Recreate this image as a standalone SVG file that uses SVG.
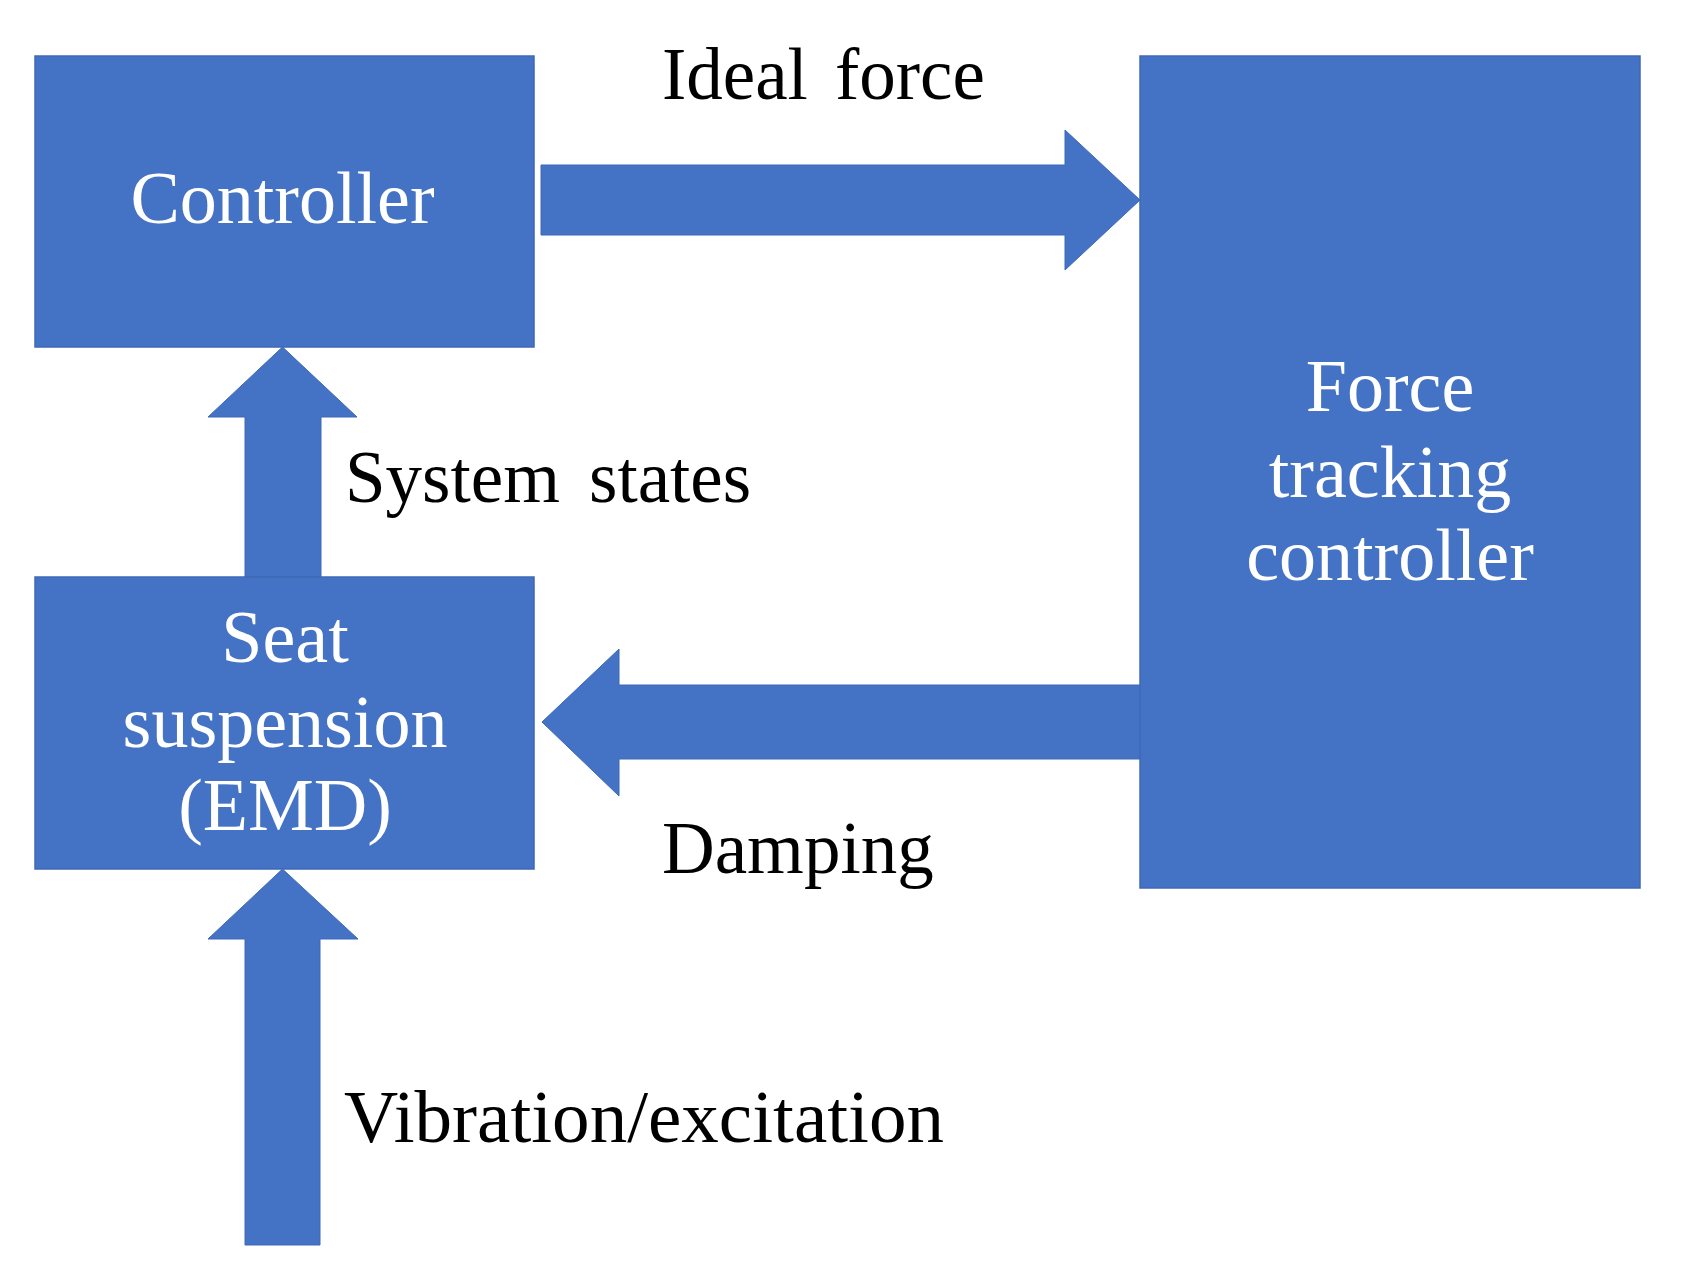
<svg xmlns="http://www.w3.org/2000/svg" width="1684" height="1277" viewBox="0 0 1684 1277">
<style>
.box{fill:#4472C4;stroke:#3F69B6;stroke-width:1.5}
.arrow{fill:#4472C4;stroke:#3F69B6;stroke-width:1}
.nt{font-family:"Liberation Serif","Times New Roman",serif;font-size:74px;fill:#FFFFFF;text-anchor:middle}
.lt{font-family:"Liberation Serif","Times New Roman",serif;font-size:73px;fill:#000000}
</style>
<rect width="1684" height="1277" fill="#FFFFFF"/>
<g id="connectors">
<g id="ideal-force">
<polygon class="arrow" points="541,165 1065,165 1065,130 1140,200 1065,270 1065,235 541,235"/>
<text class="lt" y="99"><tspan x="662">Ideal</tspan><tspan x="835">force</tspan></text>
</g>
<g id="system-states">
<polygon class="arrow" points="245,577 245,417 208,417 282.5,347 357,417 321,417 321,577"/>
<text class="lt" y="502"><tspan x="345">System</tspan><tspan x="589">states</tspan></text>
</g>
<g id="damping">
<polygon class="arrow" points="1141,685 619,685 619,649 542,722 619,796 619,759 1141,759"/>
<text class="lt" x="662" y="873">Damping</text>
</g>
<g id="vibration">
<polygon class="arrow" points="245,1245 245,939 208,939 282.5,869 358,939 320,939 320,1245"/>
<text class="lt" x="344" y="1142" textLength="600" lengthAdjust="spacingAndGlyphs">Vibration/excitation</text>
</g>
</g>
<g id="controller">
<rect class="box" x="35" y="56" width="499" height="291"/>
<text class="nt" x="282.5" y="223">Controller</text>
</g>
<g id="seat-suspension">
<rect class="box" x="35" y="577" width="499" height="292"/>
<text class="nt" x="285" y="662">Seat</text>
<text class="nt" x="285" y="747">suspension</text>
<text class="nt" x="285" y="830">(EMD)</text>
</g>
<g id="force-tracking-controller">
<rect class="box" x="1140" y="56" width="500" height="832"/>
<text class="nt" x="1390" y="411">Force</text>
<text class="nt" x="1390" y="497">tracking</text>
<text class="nt" x="1390" y="580">controller</text>
</g>
</svg>
